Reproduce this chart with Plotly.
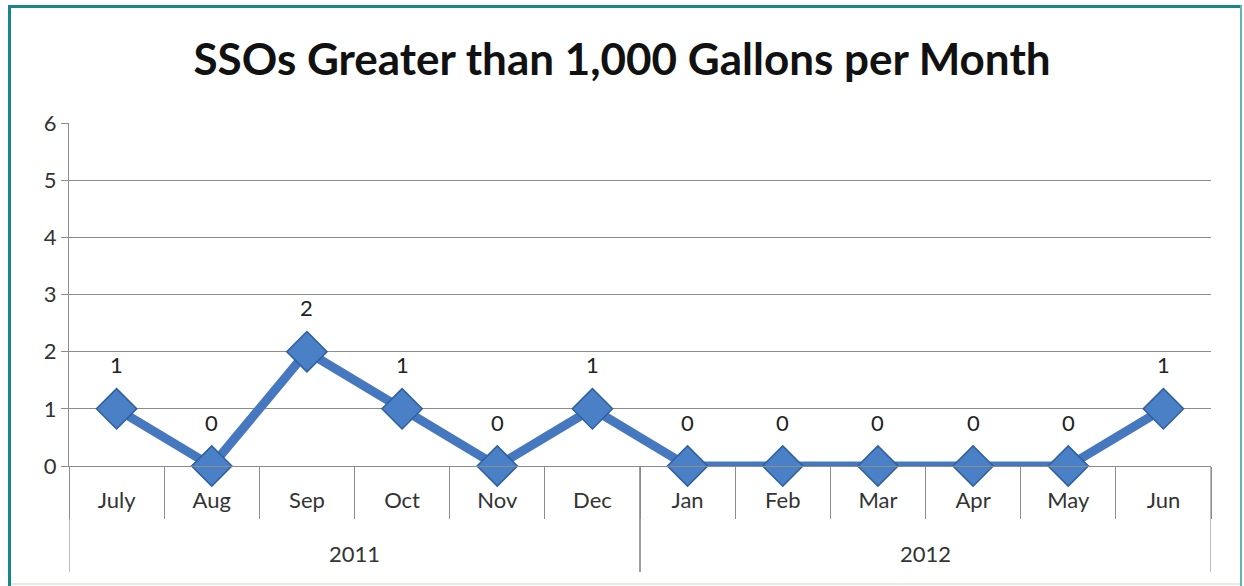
import plotly.graph_objects as go

years = ["2011"] * 6 + ["2012"] * 6
months = ["July", "Aug", "Sep", "Oct", "Nov", "Dec", "Jan", "Feb", "Mar", "Apr", "May", "Jun"]
ssos = [1, 0, 2, 1, 0, 1, 0, 0, 0, 0, 0, 1]
title = "SSOs Greater than 1,000 Gallons per Month"

W, H = 1244, 586
L, R, T, B = 69, 33, 123, 120
pw, ph = W - L - R, H - T - B


def px_x(x):
    return (x - L) / pw


def px_y(y):
    return (T + ph - y) / ph


GRID = "#8c8c8c"
TXT = "#333333"
FONT = "Lato"

fig = go.Figure()
fig.add_trace(go.Scatter(
    x=months, y=ssos,
    mode="lines+markers",
    line=dict(color="#4678bf", width=9),
    marker=dict(symbol="diamond", size=31, color="#4a80c6",
                line=dict(color="#2f5f9e", width=1.5)),
    cliponaxis=False,
    showlegend=False,
))

# data labels
for m, v in zip(months, ssos):
    fig.add_annotation(x=m, y=v, text=str(v), showarrow=False, yshift=44,
                       font=dict(family=FONT, size=22, color="#222222"))

# year group labels and dividers
groups = []
for i, yv in enumerate(years):
    if not groups or groups[-1][0] != yv:
        groups.append([yv, i, i])
    else:
        groups[-1][2] = i
for yv, i0, i1 in groups:
    fig.add_annotation(x=(i0 + i1) / 2, y=px_y(553), xref="x", yref="paper",
                       text=yv, showarrow=False, yanchor="middle",
                       font=dict(family=FONT, size=22, color=TXT))
    for b in (i0 - 0.5, i1 + 0.5):
        fig.add_shape(type="line", xref="x", yref="paper", x0=b, x1=b,
                      y0=0, y1=px_y(572), line=dict(color=GRID, width=1.2))

# frame
fig.add_shape(type="line", xref="paper", yref="paper", x0=px_x(9.5), x1=px_x(9.5),
              y0=px_y(586), y1=px_y(5), line=dict(color="#17868a", width=3))
fig.add_shape(type="line", xref="paper", yref="paper", x0=px_x(8), x1=px_x(1242),
              y0=px_y(6.5), y1=px_y(6.5), line=dict(color="#17868a", width=3))
fig.add_shape(type="line", xref="paper", yref="paper", x0=px_x(1241), x1=px_x(1241),
              y0=px_y(586), y1=px_y(5), line=dict(color="#5fb3b0", width=2))
fig.add_shape(type="line", xref="paper", yref="paper", x0=px_x(11), x1=px_x(1240),
              y0=px_y(584), y1=px_y(584), line=dict(color="#e2ebe4", width=2))

fig.update_layout(
    width=W, height=H,
    margin=dict(l=L, r=R, t=T, b=B),
    paper_bgcolor="white", plot_bgcolor="white",
    title=dict(text="<b>" + title + "</b>", x=0.5, xanchor="center",
               y=1 - 60 / H, yanchor="middle",
               font=dict(family=FONT, size=44, color="#111111")),
    font=dict(family=FONT, size=22, color=TXT),
)
fig.update_yaxes(range=[0, 6], dtick=1, showgrid=True, gridcolor=GRID, gridwidth=1,
                 showline=True, linecolor=GRID, ticks="outside", ticklen=7,
                 tickcolor=GRID, zeroline=False, fixedrange=True,
                 tickfont=dict(family=FONT, size=22, color=TXT))
fig.update_xaxes(type="category", range=[-0.5, len(months) - 0.5],
                 showline=True, linecolor=GRID,
                 ticks="outside", tickson="boundaries", ticklen=52, tickcolor=GRID,
                 ticklabelstandoff=15,
                 showgrid=False, fixedrange=True,
                 tickfont=dict(family=FONT, size=22, color=TXT))

fig.write_html("out.html")
